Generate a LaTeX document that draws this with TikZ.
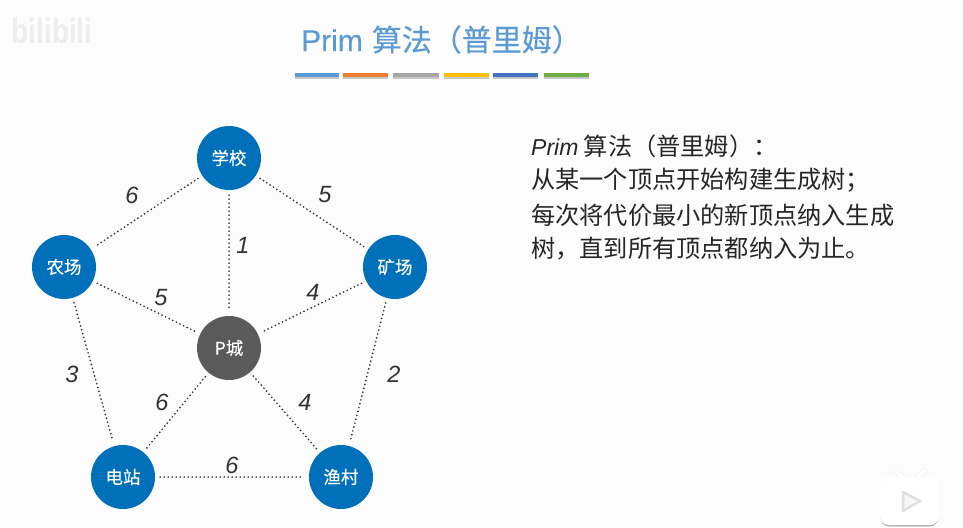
\documentclass[tikz,border=0pt]{standalone}
\usepackage{fontspec}
\setmainfont{Liberation Sans}
\newfontfamily\cjk{Noto Sans CJK SC}
\newfontfamily\cjkb[FakeBold=0.25]{Noto Sans CJK SC}
\newfontfamily\latb[FakeBold=0.25]{Liberation Sans}
\usetikzlibrary{calc}
\definecolor{titleblue}{HTML}{5B9BD5}
\definecolor{nodeblue}{HTML}{0070BA}
\definecolor{hubgray}{HTML}{5A5A5A}
\definecolor{ink}{HTML}{333333}
\tikzset{
  vertex/.style={circle,fill=nodeblue,minimum size=64pt,inner sep=0pt,text=white,font=\cjkb\fontsize{17.5}{17.5}\selectfont},
  hub/.style={vertex,fill=hubgray},
  edge/.style={draw=ink,line width=1.9pt,line cap=round,dash pattern=on 0pt off 4pt,shorten >=5pt,shorten <=5pt},
  weight/.style={font=\itshape\fontsize{23.5}{23.5}\selectfont,text=ink,inner sep=0pt},
  bar/.style={line width=4.5pt},
  para/.style={anchor=west,inner sep=0pt,text=black!85,font=\cjk\fontsize{24.2}{24.2}\selectfont}
}
\begin{document}
\begin{tikzpicture}[x=1pt,y=-1pt]
\useasboundingbox (0,0) rectangle (963,527);
\fill[white!99!black] (0,0) rectangle (963,527);
% watermark
\node[inner sep=0pt,text=black!7,font=\bfseries\fontsize{28}{28}\selectfont,yscale=1.25] (wm) at (52,31) {bilibili};
\fill[black!30,rounded corners=9pt] (880.5,482) rectangle (938.5,526.5);
\draw[black!8,line width=5pt,line cap=round] (896,471) -- (904,479) (924,471) -- (916,479);
\draw[white,line width=4pt,line cap=round] (896,471) -- (904,479) (924,471) -- (916,479);
\fill[white,rounded corners=9pt] (880,477) rectangle (939,525);
\draw[black!12,line width=2.5pt,line join=round,fill=white!97!black] (903,492) -- (920,501) -- (903,511) -- cycle;
% title
\node[inner sep=0pt,text=titleblue,anchor=base west] (title) at (301,51) {\fontsize{30}{30}\selectfont \latb Prim\hspace{0.3em}{\cjkb 算法（普里姆）}};
\draw[bar,draw=black!22] (295,77) -- (339,77) (343,77) -- (388,77) (393,77) -- (439,77) (444,77) -- (489,77) (493,77) -- (538,77) (544,77) -- (589,77);
\draw[bar,draw=titleblue] (295,75) -- (339,75);
\draw[bar,draw={rgb,255:red,237;green,125;blue,49}] (343,75) -- (388,75);
\draw[bar,draw={rgb,255:red,165;green,165;blue,165}] (393,75) -- (439,75);
\draw[bar,draw={rgb,255:red,255;green,192;blue,0}] (444,75) -- (489,75);
\draw[bar,draw={rgb,255:red,68;green,114;blue,196}] (493,75) -- (538,75);
\draw[bar,draw={rgb,255:red,112;green,173;blue,71}] (544,75) -- (589,75);
% vertices
\node[vertex] (school) at (229,158) {学校};
\node[vertex] (farm) at (64,267) {农场};
\node[vertex] (mine) at (395,267) {矿场};
\node[hub] (p) at (229,348) {P城};
\node[vertex] (plant) at (123,477) {电站};
\node[vertex] (fish) at (341,477) {渔村};
% edges
\draw[edge] (school) -- (farm);
\draw[edge] (school) -- (mine);
\draw[edge] (school) -- (p);
\draw[edge] (farm) -- (p);
\draw[edge] (mine) -- (p);
\draw[edge] (farm) -- (plant);
\draw[edge] (mine) -- (fish);
\draw[edge] (p) -- (plant);
\draw[edge] (p) -- (fish);
\draw[edge] (plant) -- (fish);
% weights
\node[weight] (w1) at (132,195) {6};
\node[weight] (w2) at (325,195) {5};
\node[weight] (w3) at (243,245) {1};
\node[weight] (w4) at (161,298) {5};
\node[weight] (w5) at (313,292) {4};
\node[weight] (w6) at (72,374) {3};
\node[weight] (w7) at (394,374) {2};
\node[weight] (w8) at (162,402) {6};
\node[weight] (w9) at (305,402) {4};
\node[weight] (w10) at (232,465) {6};
% paragraph
\node[para] (l1) at (531,146) {{\rmfamily\itshape\fontsize{23}{23}\selectfont Prim} 算法（普里姆）：};
\node[para] (l2) at (531,180) {从某一个顶点开始构建生成树；};
\node[para] (l3) at (531,215) {每次将代价最小的新顶点纳入生成};
\node[para] (l4) at (531,249) {树，直到所有顶点都纳入为止。};
\end{tikzpicture}
\end{document}
